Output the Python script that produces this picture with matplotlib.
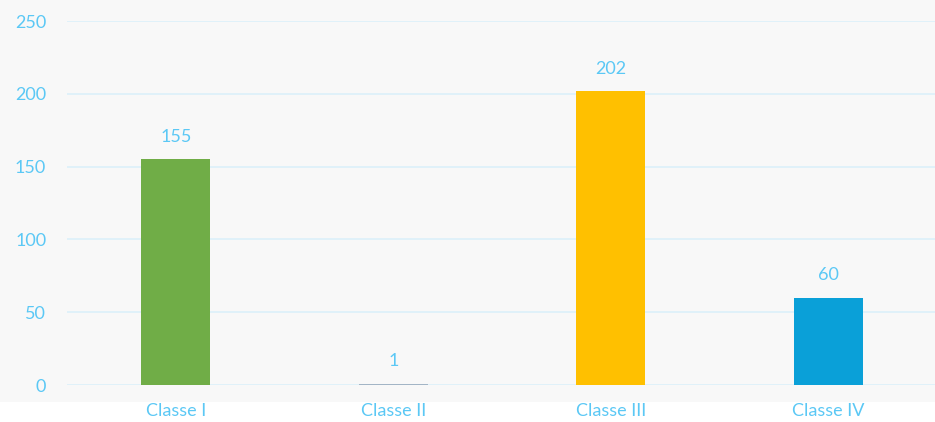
import matplotlib.pyplot as plt
from matplotlib.patches import Rectangle

# Data
categories = ['Classe I', 'Classe II', 'Classe III', 'Classe IV']
values = [155, 1, 202, 60]
colors = ['#70ad47', '#a3b5c6', '#ffc000', '#0aa0d8']
yticks = [0, 50, 100, 150, 200, 250]

txt_color = '#5bc8f5'
grid_color = '#dcf0fa'
bg = '#f8f8f8'

plt.rcParams['font.family'] = ['Lato', 'DejaVu Sans']

fig = plt.figure(figsize=(9.35, 4.22), dpi=100)
fig.patch.set_facecolor('white')
# gray background band behind chart
fig.patches.append(Rectangle((0, 20/422), 1, 1, transform=fig.transFigure,
                             facecolor=bg, edgecolor='none', zorder=-10))

ax = fig.add_axes([67/935, 37/422, 870/935, 364/422])
ax.set_facecolor(bg)
ax.patch.set_alpha(0)

x = range(len(categories))
bars = ax.bar(x, values, width=0.317, color=colors, zorder=3)

for xi, v in zip(x, values):
    ax.annotate(str(v), (xi, v), xytext=(0, 16), textcoords='offset points',
                ha='center', va='center', color=txt_color, fontsize=13)

ax.set_xlim(-0.5, 3.5)
ax.set_ylim(0, 250)
ax.set_yticks(yticks)
ax.set_xticks(list(x))
ax.set_xticklabels(categories)
ax.yaxis.grid(True, color=grid_color, linewidth=1.2, zorder=0)
ax.set_axisbelow(True)
for s in ax.spines.values():
    s.set_visible(False)
ax.tick_params(axis='both', length=0, colors=txt_color, labelsize=13)
ax.tick_params(axis='y', pad=15)
ax.tick_params(axis='x', pad=13)

fig.savefig('out.png', dpi=100, facecolor=fig.get_facecolor())
